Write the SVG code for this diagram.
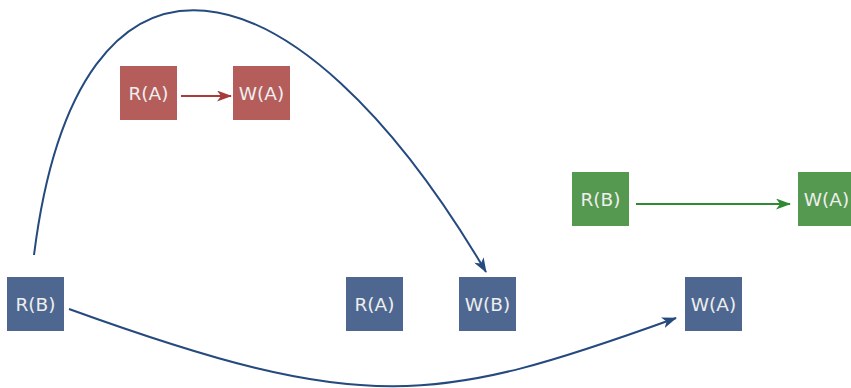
<svg xmlns="http://www.w3.org/2000/svg" width="851" height="388" viewBox="0 0 851 388">
<style>
.red{fill:#b45d5b}
.green{fill:#55984f}
.blue{fill:#4d6791}
.lbl{font-family:"DejaVu Sans",sans-serif;font-size:18.5px;fill:#eeeeee;text-anchor:middle}
.e{fill:none;stroke-width:2}
</style>
<defs>
<marker id="ab" markerWidth="15" markerHeight="11" viewBox="0 0 15 11" refX="14" refY="5.5" orient="auto" markerUnits="userSpaceOnUse"><path d="M0,0 L15,5.5 L0,11 L4,5.5 Z" fill="#254a7e"/></marker>
<marker id="ar" markerWidth="15" markerHeight="11" viewBox="0 0 15 11" refX="14" refY="5.5" orient="auto" markerUnits="userSpaceOnUse"><path d="M0,0 L15,5.5 L0,11 L4,5.5 Z" fill="#a83a3a"/></marker>
<marker id="ag" markerWidth="15" markerHeight="11" viewBox="0 0 15 11" refX="14" refY="5.5" orient="auto" markerUnits="userSpaceOnUse"><path d="M0,0 L15,5.5 L0,11 L4,5.5 Z" fill="#2f8a34"/></marker>
</defs>
<g id="connectors">
<path class="e" stroke="#254a7e" d="M34,255 C78,-95 295,-52 486,272" marker-end="url(#ab)"/>
<path class="e" stroke="#254a7e" d="M69,309 C365,416 435,405 676,318" marker-end="url(#ab)"/>
<path class="e" stroke="#a83a3a" d="M181,96 L231,96" marker-end="url(#ar)"/>
<path class="e" stroke="#2f8a34" d="M636,204 L790,204" marker-end="url(#ag)"/>
</g>
<g id="red_RA"><rect class="red" x="120" y="66" width="57" height="54"/><text class="lbl" x="148.5" y="99.5">R(A)</text></g>
<g id="red_WA"><rect class="red" x="233" y="66" width="57" height="54"/><text class="lbl" x="261.5" y="99.5">W(A)</text></g>
<g id="green_RB"><rect class="green" x="572" y="172" width="57" height="54"/><text class="lbl" x="600.5" y="205.5">R(B)</text></g>
<g id="green_WA"><rect class="green" x="798" y="172" width="57" height="54"/><text class="lbl" x="826.5" y="205.5">W(A)</text></g>
<g id="blue_RB"><rect class="blue" x="7" y="277" width="57" height="54"/><text class="lbl" x="35.5" y="310.5">R(B)</text></g>
<g id="blue_RA"><rect class="blue" x="346" y="277" width="57" height="54"/><text class="lbl" x="374.5" y="310.5">R(A)</text></g>
<g id="blue_WB"><rect class="blue" x="459" y="277" width="57" height="54"/><text class="lbl" x="487.5" y="310.5">W(B)</text></g>
<g id="blue_WA"><rect class="blue" x="685" y="277" width="57" height="54"/><text class="lbl" x="713.5" y="310.5">W(A)</text></g>
</svg>
